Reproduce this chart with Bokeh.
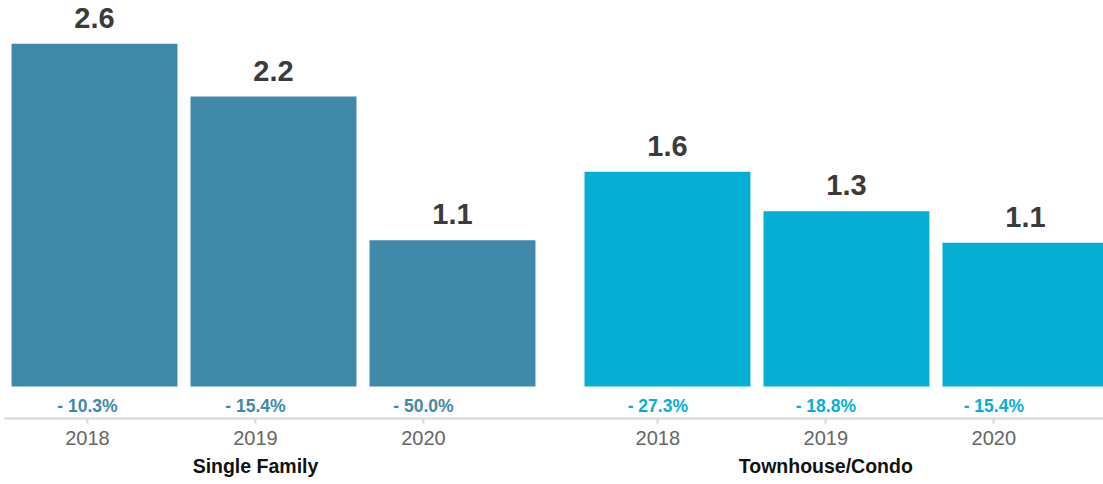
from bokeh.plotting import figure
from bokeh.models import ColumnDataSource, FactorRange, Range1d, CustomJS
from bokeh.document import Document
from bokeh.core.properties import value
from bokeh.embed import file_html
from bokeh.resources import INLINE

# ---- data ----
groups = ["Single Family", "Townhouse/Condo"]
years = ["2018", "2019", "2020"]
single_family = [2.6, 2.2, 1.11]
townhouse_condo = [1.63, 1.33, 1.09]
sf_change = [-10.3, -15.4, -50.0]
tc_change = [-27.3, -18.8, -15.4]
group_colors = ["#4089a8", "#05aed3"]

factors = [(g, y) for g in groups for y in years]
vals = single_family + townhouse_condo
changes = sf_change + tc_change
colors = [group_colors[0]] * 3 + [group_colors[1]] * 3

src = ColumnDataSource(dict(
    x=factors,
    top=vals,
    zero=[0] * len(vals),
    label=[f"{v:.1f}" for v in vals],
    pct=[f"- {abs(c):.1f}%" for c in changes],
    color=colors,
))

W, H = 1103, 484

axis_range = FactorRange(factors=factors, group_padding=0.395, factor_padding=0,
                         range_padding=0.05, range_padding_units="absolute")
bar_range = FactorRange(factors=factors, group_padding=0.201, factor_padding=0,
                        range_padding=-0.03, range_padding_units="absolute")

p = figure(width=W, height=H, x_range=axis_range,
           y_range=Range1d(-0.2428, 2.929),
           output_backend="svg", toolbar_location=None,
           min_border_left=4, min_border_right=0, min_border_top=0,
           min_border_bottom=66)
p.extra_x_ranges = {"bars": bar_range}

p.vbar(x="x", top="top", bottom="zero", width=0.927, source=src,
       fill_color="color", line_color=None, x_range_name="bars")

p.text(x="x", y="top", text="label", source=src, x_range_name="bars",
       text_font=value("Liberation Sans"), text_font_style="bold",
       text_font_size="29px", text_color="#3b3b3b", text_align="center",
       text_baseline="alphabetic", y_offset=-26)

p.text(x="x", y="zero", text="pct", source=src,
       text_font=value("Liberation Sans"), text_font_style="bold",
       text_font_size="17.5px", text_color="color", text_align="center",
       text_baseline="alphabetic", y_offset=19)

p.yaxis.visible = False
p.grid.visible = False
p.outline_line_color = None
p.background_fill_color = "white"
p.border_fill_color = "white"

ax = p.xaxis[0]
ax.axis_line_color = "#d6d6d6"
ax.axis_line_width = 2
ax.major_tick_line_color = "#d6d6d6"
ax.major_tick_line_width = 2
ax.major_tick_in = 0
ax.major_tick_out = 5
ax.minor_tick_line_color = None
ax.major_label_text_font = "Liberation Sans"
ax.major_label_text_font_size = "20px"
ax.major_label_text_color = "#666666"
ax.major_label_text_line_height = 1.5
ax.major_label_standoff = 7
ax.group_text_font = "Liberation Sans"
ax.group_text_font_size = "19.5px"
ax.group_text_font_style = "bold"
ax.group_text_color = "#111111"
ax.group_text_line_height = 0.5
ax.separator_line_color = None

# the reference's categories sit slightly off-centre: set the categorical
# ranges' extents once the page is ready
doc = Document()
doc.add_root(p)
doc.js_on_event("document_ready", CustomJS(
    args=dict(ar=axis_range, br=bar_range),
    code="""
    ar.setv({start: 0.006, end: 6.548});
    br.setv({start: -0.0028, end: 6.137});
    """))

open("out.html", "w").write(file_html(p, INLINE))
